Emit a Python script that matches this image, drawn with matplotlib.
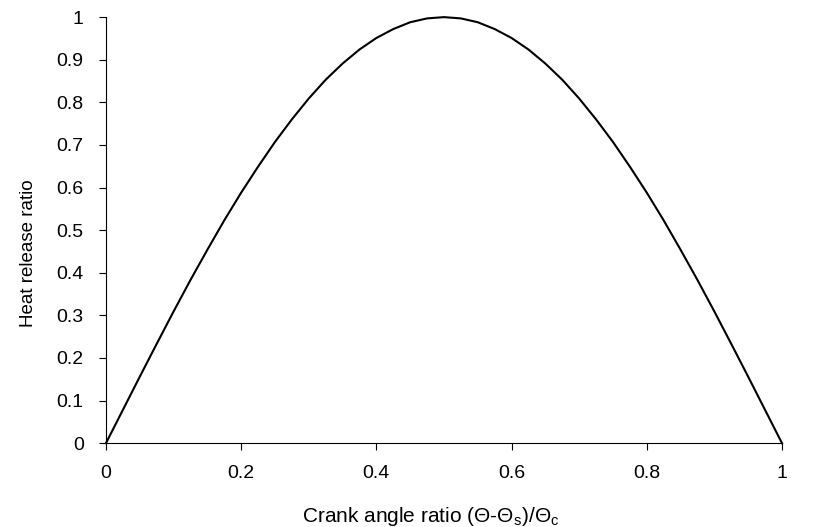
import matplotlib.pyplot as plt

plt.rcParams["font.family"] = ["Liberation Sans", "DejaVu Sans"]
plt.rcParams["mathtext.fontset"] = "custom"
plt.rcParams["mathtext.rm"] = "Liberation Sans"

# valores
x_ratio = [0.0, 0.025, 0.05, 0.075, 0.1, 0.125, 0.15, 0.175, 0.2, 0.225,
           0.25, 0.275, 0.3, 0.325, 0.35, 0.375, 0.4, 0.425, 0.45, 0.475,
           0.5, 0.525, 0.55, 0.575, 0.6, 0.625, 0.65, 0.675, 0.7, 0.725,
           0.75, 0.775, 0.8, 0.825, 0.85, 0.875, 0.9, 0.925, 0.95, 0.975, 1.0]
heat_ratio = [0.0, 0.078, 0.156, 0.233, 0.309, 0.383, 0.454, 0.523, 0.588, 0.649,
              0.707, 0.760, 0.809, 0.853, 0.891, 0.924, 0.951, 0.972, 0.988, 0.997,
              1.0, 0.997, 0.988, 0.972, 0.951, 0.924, 0.891, 0.853, 0.809, 0.760,
              0.707, 0.649, 0.588, 0.523, 0.454, 0.383, 0.309, 0.233, 0.156, 0.078, 0.0]

xticks = [0, 0.2, 0.4, 0.6, 0.8, 1]
xtick_labels = ["0", "0.2", "0.4", "0.6", "0.8", "1"]
yticks = [0, 0.1, 0.2, 0.3, 0.4, 0.5, 0.6, 0.7, 0.8, 0.9, 1]
ytick_labels = ["0", "0.1", "0.2", "0.3", "0.4", "0.5", "0.6", "0.7", "0.8", "0.9", "1"]

fig = plt.figure(figsize=(8.15, 5.27), dpi=100)
ax = fig.add_axes([0.130, 0.159, 0.8295, 0.8085])
ax.plot(x_ratio, heat_ratio, color="black", linewidth=1.5, clip_on=False)

ax.set_xlim(0, 1)
ax.set_ylim(0, 1)
ax.set_xticks(xticks)
ax.set_xticklabels(xtick_labels)
ax.set_yticks(yticks)
ax.set_yticklabels(ytick_labels)
ax.spines["top"].set_visible(False)
ax.spines["right"].set_visible(False)
ax.tick_params(direction="out", length=5, width=0.8, labelsize=14)
ax.tick_params(axis="x", pad=11)
ax.tick_params(axis="y", pad=11)

ax.set_xlabel(r"Crank angle ratio (Θ-Θ$_\mathrm{s}$)/Θ$_\mathrm{c}$", fontsize=15)
ax.set_ylabel("Heat release ratio", fontsize=13.5)
ax.xaxis.set_label_coords(0.481, -0.145)
ax.yaxis.set_label_coords(-0.102, 0.446)

fig.savefig("out.png", dpi=100)
